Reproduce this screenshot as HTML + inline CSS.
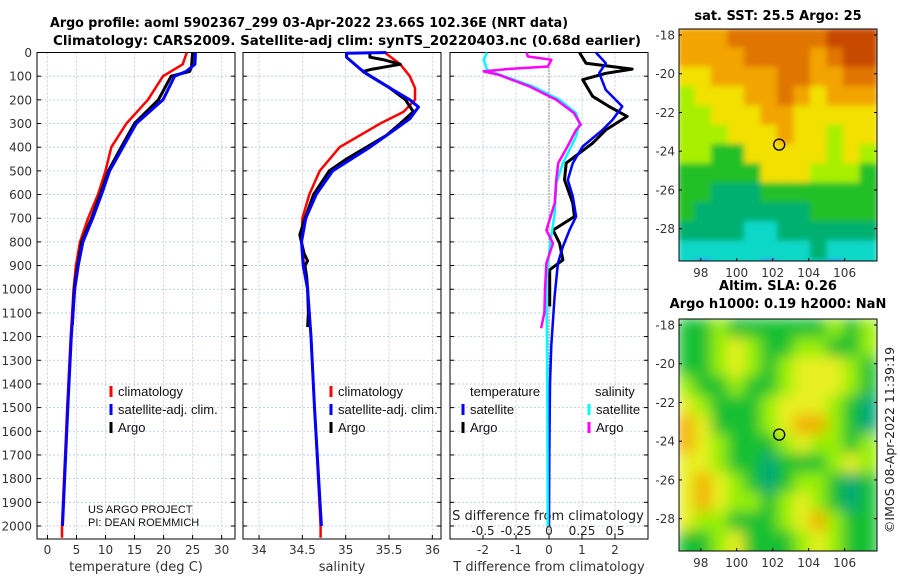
<!DOCTYPE html>
<html><head><meta charset="utf-8"><style>
html,body{margin:0;padding:0;background:#fff;}
svg{display:block;font-family:"DejaVu Sans","Liberation Sans",sans-serif;}
.leg{font-family:"Liberation Sans",sans-serif;}
</style></head><body>
<svg id="chart" width="900" height="580" viewBox="0 0 900 580" xmlns="http://www.w3.org/2000/svg">
<defs>
<filter id="blurA" x="-5%" y="-5%" width="110%" height="110%"><feGaussianBlur stdDeviation="3"/></filter>
<filter id="blurB" x="-5%" y="-5%" width="110%" height="110%"><feGaussianBlur stdDeviation="7"/></filter>
<clipPath id="clipMap1"><rect x="679" y="29" width="198" height="232"/></clipPath>
<clipPath id="clipMap2"><rect x="679" y="319" width="198" height="232"/></clipPath>
</defs>
<text x="50" y="27" font-size="13" font-weight="bold" textLength="518" lengthAdjust="spacingAndGlyphs">Argo profile: aoml 5902367_299 03-Apr-2022 23.66S 102.36E (NRT data)</text>
<text x="53" y="45" font-size="13" font-weight="bold" textLength="588" lengthAdjust="spacingAndGlyphs">Climatology: CARS2009. Satellite-adj clim: synTS_20220403.nc (0.68d earlier)</text>
<g id="g"></g>
</svg>
<script>
// ---- data ----
const tClimDepth=[0,50,100,200,300,400,500,600,700,800,900,1000,1200,1500,2000,2050];
const tClimVal=[24.0,23.3,19.9,17.3,13.6,11.0,10.0,8.7,7.0,5.6,4.9,4.5,4.0,3.4,2.5,2.5];
const tSatDepth=[0,50,80,100,200,300,400,500,600,700,800,900,1000,1200,1500,2000];
const tSatVal=[25.5,25.4,23.9,21.9,19.9,15.3,13.0,10.7,9.3,7.8,6.1,5.3,4.7,4.1,3.5,2.6];
const tArgoDepth=[0,60,80,100,200,300,400,500,600,700,800,900,1000,1150];
const tArgoVal=[25.0,24.8,24.5,21.3,19.1,15.0,12.7,10.5,9.1,7.6,5.9,5.2,4.6,4.3];
const sClimDepth=[0,50,100,150,200,250,300,400,500,600,700,800,900,1000,1200,1500,2000,2050];
const sClimVal=[35.45,35.63,35.74,35.80,35.80,35.67,35.40,34.93,34.70,34.58,34.50,34.49,34.52,34.56,34.60,34.64,34.71,34.71];
const sSatDepth=[0,3,20,80,150,200,230,280,330,400,500,600,700,800,900,1000,1200,1500,2000];
const sSatVal=[35.47,35.01,35.01,35.20,35.51,35.74,35.84,35.74,35.55,35.28,34.85,34.66,34.54,34.49,34.51,34.56,34.60,34.64,34.72];
const sArgoDepth=[0,20,30,50,70,80,90,150,200,250,300,350,400,450,500,600,700,770,850,880,900,950,1000,1100,1160];
const sArgoVal=[35.28,35.28,35.43,35.63,35.31,35.20,35.24,35.51,35.69,35.78,35.63,35.47,35.24,35.01,34.81,34.63,34.53,34.47,34.52,34.56,34.53,34.55,34.56,34.57,34.56];
const dTArgoDepth=[0,45,70,88,115,185,228,270,327,383,467,538,637,693,750,806,876,918,1031,1073];
const dTArgoVal=[0.92,1.12,2.52,1.72,1.02,1.32,1.82,2.37,1.72,1.32,0.52,0.47,0.72,0.77,0.12,0.32,0.42,0.02,0.02,0.02];
const dTSatDepth=[0,45,87,158,228,285,327,397,467,538,608,693,750,820,890,1031,1237,1400,1700,2000];
const dTSatVal=[1.42,1.72,1.52,1.72,2.22,1.92,1.62,1.02,0.72,0.57,0.72,0.82,0.62,0.42,0.27,0.17,0.07,0.03,0.01,0.0];
const dSSatDepth=[0,31,73,94,144,200,256,298,355,467,552,679,820,960,1237,1500,2000];
const dSSatVal=[-0.47,-0.495,-0.47,-0.37,-0.12,0.08,0.205,0.23,0.205,0.105,0.055,0.043,0.005,-0.02,-0.015,-0.012,-0.01];
const dSArgoDepth=[0,17,31,59,70,80,94,144,200,256,305,327,397,467,538,637,750,806,890,1002,1100,1165];
const dSArgoVal=[-0.17,-0.16,0.018,-0.008,-0.32,-0.495,-0.38,-0.145,0.055,0.19,0.24,0.205,0.14,0.07,0.055,0.043,-0.02,0.03,-0.02,-0.03,-0.035,-0.06];
const depthTicks=[0,100,200,300,400,500,600,700,800,900,1000,1100,1200,1300,1400,1500,1600,1700,1800,1900,2000];
const tempTicks=[0,5,10,15,20,25,30];
const salTicks=[34,34.5,35,35.5,36];
const salTickLabels=["34","34.5","35","35.5","36"];
const dTTicks=[-2,-1,0,1,2];
const dSTicks=[-0.5,-0.25,0,0.25,0.5];
const dSTickLabels=["-0.5","-0.25","0","0.25","0.5"];
const lonTicks=[98,100,102,104,106];
const latTicks=[-18,-20,-22,-24,-26,-28];
const argoLon=102.36, argoLat=-23.66;
const sstGrid=["OOODDDDDDRRR","OOOODDDDODRR","YYOOOODDOODD","LYYYOODOYOOO","LLYYYOOYYYYY","LLLYYYOYYLYY","LLGGYYYYYLYL","GGGGGYYYLLLG","GGTTTGGGGGGG","GTTTTTTTGGGG","TTTTCCTTTTTT","CCCCCCCCTCCC","CBCCCBCCCBCC"];
const slaGrid=["GGLGGGGGGLGL","GGLYLGGLLGGL","GGLYLGLYYYLG","LGGLGGLYYYLG","YLGGGLYYYLGT","OYGGGLYOOLGT","OYLGGGLYLLGL","YYLGGTGGGLYL","YOYLGTGLLGTG","YOYLLGLYLGTG","YLLGGGLYOLGG","GGLYGGGLYLGG","GGLYGGGLYLGG"];
// ---- drawing ----
const NS="http://www.w3.org/2000/svg";
const root=document.getElementById('g');
function mk(tag,attrs,parent){const e=document.createElementNS(NS,tag);for(const k in attrs)e.setAttribute(k,attrs[k]);(parent||root).appendChild(e);return e;}
const yTop=52.5, yBot=539, dMax=2055;
function yD(d){return yTop+d*(yBot-yTop)/dMax;}
function panelScale(x0,x1,v0,v1){return v=>x0+(v-v0)*(x1-x0)/(v1-v0);}
const P1={x0:37,x1:235,f:panelScale(37,235,-1.8,32.3)};
const P2={x0:243,x1:441,f:panelScale(243,441,33.815,36.1)};
const P3={x0:450,x1:648,f:panelScale(450,648,-3,3)};
const fS=v=>P3.f(v*4);
function panelFrame(P,name,xt,xl,xf,title){
  const g=mk('g',{});
  
  
  depthTicks.forEach(d=>{mk('line',{x1:P.x0,x2:P.x1,y1:yD(d),y2:yD(d),stroke:'#b8c4e0','stroke-width':0.8,'stroke-dasharray':'2,2'},g);});
  xt.forEach(v=>{mk('line',{x1:xf(v),x2:xf(v),y1:yTop,y2:yBot,stroke:'#b8c4e0','stroke-width':0.8,'stroke-dasharray':'2,2'},g);});
  depthTicks.forEach(d=>{mk('line',{x1:P.x0,x2:P.x0+4,y1:yD(d),y2:yD(d),stroke:'#000'},g);mk('line',{x1:P.x1,x2:P.x1-4,y1:yD(d),y2:yD(d),stroke:'#000'},g);});
  xt.forEach((v,i)=>{mk('line',{x1:xf(v),x2:xf(v),y1:yBot,y2:yBot-4,stroke:'#000'},g);
    const t=mk('text',{x:xf(v),y:yBot+15,'text-anchor':'middle','font-size':12,fill:'#333'},g);t.textContent=xl[i];
    
    });
  mk('rect',{x:P.x0,y:yTop,width:P.x1-P.x0,height:yBot-yTop,fill:'none',stroke:'#000','stroke-width':1},g);
  const tt=mk('text',{x:(P.x0+P.x1)/2,y:571,'text-anchor':'middle','font-size':13,fill:'#333'},g);tt.textContent=title;
  
  
  return g;
}
panelFrame(P1,'temperature-panel',tempTicks,tempTicks.map(String),P1.f,'temperature (deg C)');
panelFrame(P2,'salinity-panel',salTicks,salTickLabels,P2.f,'salinity');
const g3=panelFrame(P3,'difference-panel',dTTicks,dTTicks.map(String),P3.f,'T difference from climatology');
mk('line',{x1:P3.f(0),x2:P3.f(0),y1:yTop,y2:yBot,stroke:'#333','stroke-width':1,'stroke-dasharray':'1,2'},g3);
depthTicks.forEach(d=>{const t=mk('text',{x:32,y:yD(d)+4.5,'text-anchor':'end','font-size':12,fill:'#333'});t.textContent=d;
  
  });
const sTitle=mk('text',{x:548,y:520,'text-anchor':'middle','font-size':13,fill:'#222'});sTitle.textContent='S difference from climatology';


dSTicks.forEach((v,i)=>{const t=mk('text',{x:fS(v),y:535,'text-anchor':'middle','font-size':12,fill:'#222'});t.textContent=dSTickLabels[i];
  
  });
function line(depths,vals,f,color,w,name){
  const pts=depths.map((d,i)=>f(vals[i]).toFixed(1)+','+yD(d).toFixed(1)).join(' ');
  const p=mk('polyline',{points:pts,fill:'none',stroke:color,'stroke-width':w,'stroke-linejoin':'round'});
  
  
}
line(tClimDepth,tClimVal,P1.f,'#f00',2.5,'temp-climatology-line');
line(tArgoDepth,tArgoVal,P1.f,'#000',3,'temp-argo-line');
line(tSatDepth,tSatVal,P1.f,'#00f',3,'temp-satellite-line');
line(sClimDepth,sClimVal,P2.f,'#f00',2.5,'sal-climatology-line');
line(sArgoDepth,sArgoVal,P2.f,'#000',3,'sal-argo-line');
line(sSatDepth,sSatVal,P2.f,'#00f',3,'sal-satellite-line');
line(dTArgoDepth,dTArgoVal,P3.f,'#000',3,'tdiff-argo-line');
line(dTSatDepth,dTSatVal,P3.f,'#00f',2.5,'tdiff-satellite-line');
line(dSSatDepth,dSSatVal,fS,'#0ff',2.5,'sdiff-satellite-line');
line(dSArgoDepth,dSArgoVal,fS,'#f0f',2.5,'sdiff-argo-line');
function leg(x,y,color,label,name){
  const g=mk('g',{class:'leg'});
  
  
  mk('rect',{x:x-1.5,y:y-10,width:3,height:11,fill:color},g);
  const t=mk('text',{x:x+7,y:y,'font-size':13,fill:'#111'},g);t.textContent=label;
}
leg(111,396,'#f00','climatology','legend-entry-climatology');
leg(111,414,'#00f','satellite-adj. clim.','legend-entry-satellite');
leg(111,432,'#000','Argo','legend-entry-argo');
leg(331,396,'#f00','climatology','legend-entry-climatology');
leg(331,414,'#00f','satellite-adj. clim.','legend-entry-satellite');
leg(331,432,'#000','Argo','legend-entry-argo');
const lt1=mk('text',{x:470,y:396,'font-size':13,fill:'#111',class:'leg'});lt1.textContent='temperature';


const lt2=mk('text',{x:595,y:396,'font-size':13,fill:'#111',class:'leg'});lt2.textContent='salinity';


leg(463,414,'#00f','satellite','legend-entry-t-satellite');
leg(463,432,'#000','Argo','legend-entry-t-argo');
leg(589,414,'#0ff','satellite','legend-entry-s-satellite');
leg(589,432,'#f0f','Argo','legend-entry-s-argo');
const c1=mk('text',{x:88,y:513,'font-size':11,fill:'#111',class:'leg'});c1.textContent='US ARGO PROJECT';


const c2=mk('text',{x:88,y:526,'font-size':11,fill:'#111',class:'leg'});c2.textContent='PI: DEAN ROEMMICH';


const sstPal={R:'#c84a00',D:'#e07400',O:'#f2a400',Y:'#f2e000',L:'#a8f000',G:'#20c028',T:'#00b070',C:'#10d8c8',B:'#2a80ff'};
const slaPal={G:'#14c030',T:'#00a878',L:'#98f000',Y:'#e8f020',O:'#f2b000'};
function drawMap(y0,grid,pal,blur,clip,name,titles){
  const mx0=679,mx1=877,my1=y0+232;
  const lonF=v=>mx0+(v-96.79)*(mx1-mx0)/(107.8-96.79);
  const latF=v=>y0+(-17.69-v)*232/(29.67-17.69);
  const g=mk('g',{});
  
  
  const cg=mk('g',{'clip-path':'url(#'+clip+')'},g);
  const inner=mk('g',{filter:'url(#'+blur+')'},cg);
  const rows=grid.length, cols=grid[0].length;
  const cw=(mx1-mx0)/cols, ch=232/12;
  for(let r=0;r<rows;r++)for(let c=0;c<cols;c++){
    mk('rect',{x:mx0+c*cw-1,y:y0+r*ch-1,width:cw+2,height:ch+2,fill:pal[grid[r][c]]},inner);
  }
  mk('rect',{x:mx0,y:y0,width:mx1-mx0,height:232,fill:'none',stroke:'#000'},g);
  lonTicks.forEach(v=>{mk('line',{x1:lonF(v),x2:lonF(v),y1:my1,y2:my1-3,stroke:'#000'},g);
    const t=mk('text',{x:lonF(v),y:my1+16,'text-anchor':'middle','font-size':12,fill:'#333'},g);t.textContent=v;
    
    });
  latTicks.forEach(v=>{mk('line',{x1:mx0,x2:mx0+3,y1:latF(v),y2:latF(v),stroke:'#000'},g);
    mk('line',{x1:mx1,x2:mx1-3,y1:latF(v),y2:latF(v),stroke:'#000'},g);
    const t=mk('text',{x:675,y:latF(v)+4.5,'text-anchor':'end','font-size':12,fill:'#333'},g);t.textContent=v;
    
    });
  const m=mk('circle',{cx:lonF(argoLon),cy:latF(argoLat),r:5.5,fill:'none',stroke:'#000','stroke-width':1.3},g);
  
  
  titles.forEach((tx,i)=>{const t=mk('text',{x:778,y:titles.length==1?y0-9:y0-29+i*18,'text-anchor':'middle','font-size':13,'font-weight':'bold'},g);t.textContent=tx;
    
    });
}
drawMap(29,sstGrid,sstPal,'blurA','clipMap1','sst-map',['sat. SST: 25.5 Argo: 25']);
drawMap(319,slaGrid,slaPal,'blurB','clipMap2','sla-map',['Altim. SLA: 0.26','Argo h1000: 0.19 h2000: NaN']);
const ts=mk('text',{x:0,y:0,'font-size':12.5,fill:'#222','text-anchor':'middle',transform:'translate(894,440) rotate(-90)'});ts.textContent='©IMOS 08-Apr-2022 11:39:19';


</script>
</body></html>
